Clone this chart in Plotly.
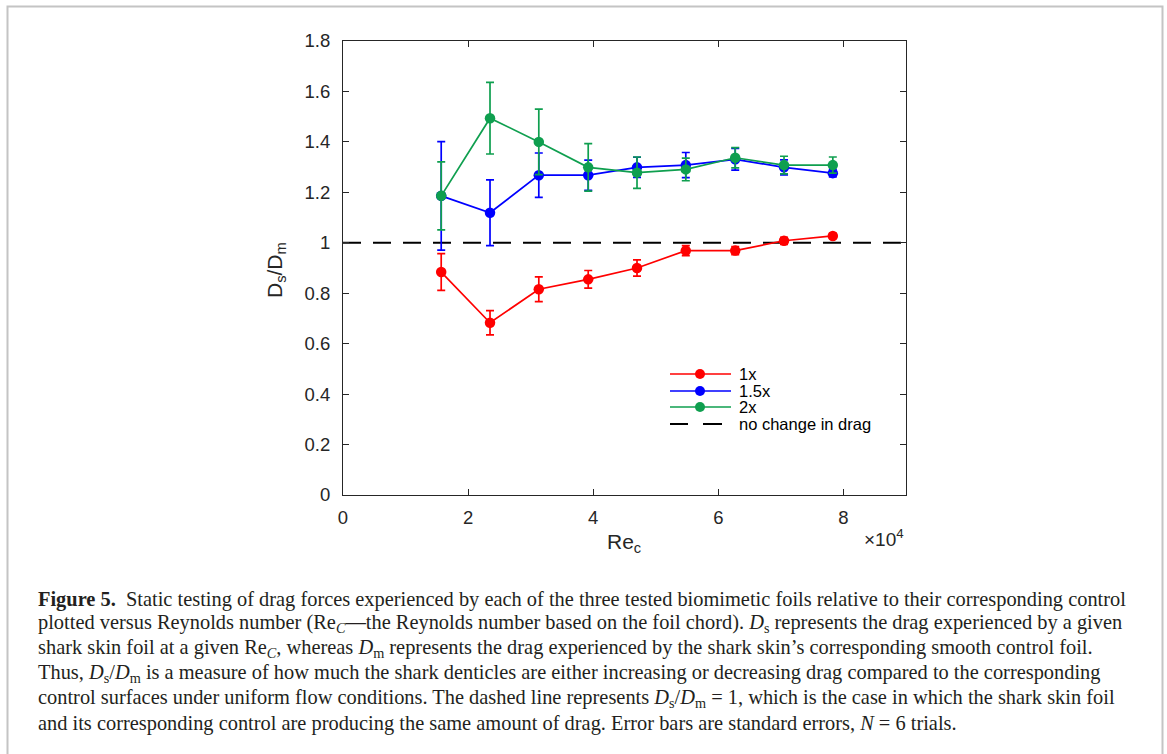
import plotly.graph_objects as go

# Reynolds number based on chord (x 10^4)
re_c = [1.57, 2.35, 3.13, 3.92, 4.70, 5.48, 6.27, 7.05, 7.83]

# Drag ratio D_s/D_m and standard errors for each foil
ratio_1x = [0.884, 0.683, 0.816, 0.855, 0.900, 0.969, 0.969, 1.008, 1.027]
err_1x = [0.073, 0.048, 0.049, 0.035, 0.032, 0.020, 0.016, 0.014, 0.010]

ratio_15x = [1.186, 1.119, 1.268, 1.268, 1.299, 1.308, 1.331, 1.299, 1.276]
err_15x = [0.215, 0.130, 0.088, 0.060, 0.040, 0.050, 0.043, 0.030, 0.015]

ratio_2x = [1.186, 1.494, 1.400, 1.299, 1.278, 1.291, 1.337, 1.308, 1.308]
err_2x = [0.135, 0.142, 0.130, 0.094, 0.062, 0.045, 0.040, 0.035, 0.032]

series_names = ["1x", "1.5x", "2x"]
series_colors = ["#ff0000", "#0000ff", "#0f9f4f"]
baseline_name = "no change in drag"
x_range = [0, 9]
y_range = [0, 1.8]

W, H = 1167, 754
L, R, T, B = 343, 906, 41, 495   # plot area in pixels
AX = "#262626"
SANS = "Liberation Sans, Arial, sans-serif"
SERIF = "Liberation Serif, Times New Roman, serif"


def px(xp):
    return (xp - L) / (R - L)


def py(yp):
    return (B - yp) / (B - T)


fig = go.Figure()

# reference line at D_s/D_m = 1
fig.add_trace(go.Scatter(
    x=x_range, y=[1, 1], mode="lines",
    line=dict(color="black", width=2, dash="18px,12px"),
    showlegend=False, hoverinfo="skip"))

for name, color, yv, ev in zip(series_names, series_colors,
                               [ratio_1x, ratio_15x, ratio_2x],
                               [err_1x, err_15x, err_2x]):
    fig.add_trace(go.Scatter(
        x=re_c, y=yv, name=name, mode="lines+markers",
        line=dict(color=color, width=1.7),
        marker=dict(color=color, size=10.5, line=dict(width=0)),
        error_y=dict(type="data", array=ev, visible=True,
                     color=color, thickness=1.7, width=4),
        showlegend=False))

shapes = []
annotations = []

# outer figure frame
shapes.append(dict(type="rect", xref="paper", yref="paper",
                   x0=px(7.5), x1=px(1162.5), y0=py(770), y1=py(6.5),
                   line=dict(color="#c4c4c4", width=2), fillcolor="rgba(0,0,0,0)",
                   layer="below"))

# legend drawn in the lower right of the axes
legend_rows = [374, 391, 407, 424]
for name, color, yr in zip(series_names, series_colors, legend_rows[:3]):
    shapes.append(dict(type="line", xref="paper", yref="paper",
                       x0=px(670), x1=px(731), y0=py(yr), y1=py(yr),
                       line=dict(color=color, width=1.7)))
    shapes.append(dict(type="circle", xref="paper", yref="paper",
                       x0=px(695), x1=px(705), y0=py(yr + 5), y1=py(yr - 5),
                       line=dict(width=0), fillcolor=color))
    annotations.append(dict(text=name, xref="paper", yref="paper",
                            x=px(737), y=py(yr), xanchor="left", yanchor="middle",
                            showarrow=False, font=dict(family=SANS, size=16.5, color="black")))
yr = legend_rows[3]
for a, b in [(670, 688), (703, 722)]:
    shapes.append(dict(type="line", xref="paper", yref="paper",
                       x0=px(a), x1=px(b), y0=py(yr), y1=py(yr),
                       line=dict(color="black", width=2)))
annotations.append(dict(text=baseline_name, xref="paper", yref="paper",
                        x=px(737), y=py(yr), xanchor="left", yanchor="middle",
                        showarrow=False, font=dict(family=SANS, size=16.5, color="black")))

# axis titles and exponent label
annotations.append(dict(text="D<sub>s</sub>/D<sub>m</sub>", xref="paper", yref="paper",
                        x=px(276), y=py(270), textangle=-90, showarrow=False,
                        xanchor="center", yanchor="middle",
                        font=dict(family=SANS, size=21, color=AX)))
annotations.append(dict(text="Re<sub>c</sub>", xref="paper", yref="paper",
                        x=px(624), y=py(543), showarrow=False,
                        xanchor="center", yanchor="middle",
                        font=dict(family=SANS, size=21, color=AX)))
annotations.append(dict(text="×10<sup>4</sup>", xref="paper", yref="paper",
                        x=px(906), y=py(538), showarrow=False,
                        xanchor="right", yanchor="middle",
                        font=dict(family=SANS, size=19, color=AX)))

# figure caption
caption_lines = [
    "<b>Figure 5.</b>  Static testing of drag forces experienced by each of the three tested biomimetic foils relative to their corresponding control",
    "plotted versus Reynolds number (Re<sub><i>C</i></sub>—the Reynolds number based on the foil chord). <i>D</i><sub>s</sub> represents the drag experienced by a given",
    "shark skin foil at a given Re<sub><i>C</i></sub>, whereas <i>D</i><sub>m</sub> represents the drag experienced by the shark skin’s corresponding smooth control foil.",
    "Thus, <i>D</i><sub>s</sub>/<i>D</i><sub>m</sub> is a measure of how much the shark denticles are either increasing or decreasing drag compared to the corresponding",
    "control surfaces under uniform flow conditions. The dashed line represents <i>D</i><sub>s</sub>/<i>D</i><sub>m</sub> = 1, which is the case in which the shark skin foil",
    "and its corresponding control are producing the same amount of drag. Error bars are standard errors, <i>N</i> = 6 trials.",
]
for i, line in enumerate(caption_lines):
    annotations.append(dict(text=line, xref="paper", yref="paper",
                            x=px(36), y=py(599 + 24.8 * i), showarrow=False,
                            xanchor="left", yanchor="middle",
                            font=dict(family=SERIF, size=20.4, color="#231f20")))

axis_common = dict(showline=True, linecolor=AX, linewidth=1, mirror="ticks",
                   ticks="inside", ticklen=6, tickcolor=AX, tickwidth=1,
                   showgrid=False, zeroline=False,
                   tickfont=dict(family=SANS, size=18.5, color=AX))

fig.update_layout(
    width=W, height=H,
    margin=dict(l=L, r=W - R, t=T, b=H - B, pad=0),
    paper_bgcolor="white", plot_bgcolor="white",
    showlegend=False,
    xaxis=dict(range=x_range, tickvals=[0, 2, 4, 6, 8], ticklabelstandoff=6, **axis_common),
    yaxis=dict(range=y_range, dtick=0.2, tick0=0, ticklabelstandoff=8, **axis_common),
    shapes=shapes, annotations=annotations,
)

fig.write_html("out.html")
